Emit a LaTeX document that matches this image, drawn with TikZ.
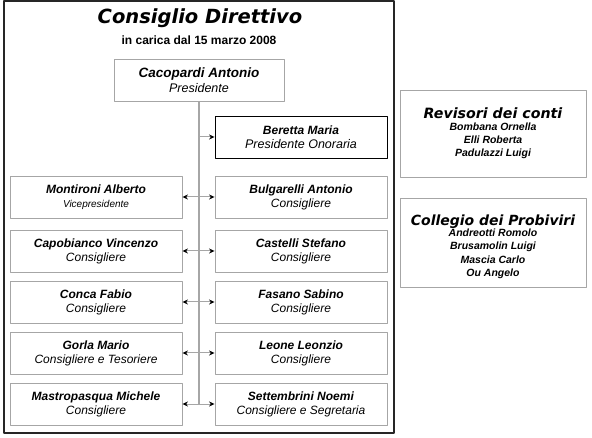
\documentclass[tikz,border=0pt]{standalone}
\usepackage{fontspec}
\setmainfont{Liberation Sans}
\newfontfamily\heavyfont[BoldFeatures={FakeBold=1.5}]{DejaVu Sans}
\usetikzlibrary{arrows.meta}

\begin{document}
\begin{tikzpicture}[x=1pt, y=-1pt, line join=round,
	punta/.tip={Stealth[black, length=5.5pt, width=5pt]},
	membro/.style={draw=gray!70, line width=0.9pt, fill=white, minimum width=172pt, minimum height=42pt, align=center, inner sep=1pt, font=\fontsize{12}{14}\selectfont},
	onoraria/.style={membro, draw=black},
	collegio/.style={draw=gray!70, line width=0.9pt, minimum width=186pt, align=center, inner sep=1pt, font=\bfseries\itshape\fontsize{10.5}{13}\selectfont},
	legame/.style={gray!70, line width=1pt}]
	\useasboundingbox (0,0) rectangle (592,438);
	\draw[line width=1.2pt, black!85] (4,1) rectangle (394,433);
	% titolo
	\node (titolo) at (200,18) {\heavyfont\bfseries\itshape\fontsize{19.5}{22}\selectfont Consiglio Direttivo};
	\node (data) at (199,40) {\bfseries\fontsize{12}{14}\selectfont in carica dal 15 marzo 2008};
	% consiglio
	\node[membro, minimum width=170pt, font=\fontsize{12.5}{15}\selectfont] (pres) at (199,80) {\textbf{\textit{\fontsize{13.5}{15}\selectfont Cacopardi Antonio}}\\ \textit{Presidente}};
	\coordinate (fondo) at (199,404);
	\draw[gray!70, line width=1.3pt] (pres.south) -- (fondo);
	\node[onoraria] (beretta) at (301,137) {\textbf{\textit{Beretta Maria}}\\ \textit{\fontsize{12.5}{14}\selectfont Presidente Onoraria}};
	\node[membro] (l1) at (96,197) {\textbf{\textit{Montironi Alberto}}\\ \textit{\fontsize{10}{12}\selectfont Vicepresidente}};
	\node[membro] (r1) at (301,197) {\textbf{\textit{Bulgarelli Antonio}}\\ \textit{Consigliere}};
	\node[membro] (l2) at (96,251) {\textbf{\textit{Capobianco Vincenzo}}\\ \textit{Consigliere}};
	\node[membro] (r2) at (301,251) {\textbf{\textit{Castelli Stefano}}\\ \textit{Consigliere}};
	\node[membro] (l3) at (96,302) {\textbf{\textit{Conca Fabio}}\\ \textit{Consigliere}};
	\node[membro] (r3) at (301,302) {\textbf{\textit{Fasano Sabino}}\\ \textit{Consigliere}};
	\node[membro] (l4) at (96,353) {\textbf{\textit{Gorla Mario}}\\ \textit{Consigliere e Tesoriere}};
	\node[membro] (r4) at (301,353) {\textbf{\textit{Leone Leonzio}}\\ \textit{Consigliere}};
	\node[membro] (l5) at (96,404) {\textbf{\textit{Mastropasqua Michele}}\\ \textit{Consigliere}};
	\node[membro] (r5) at (301,404) {\textbf{\textit{Settembrini Noemi}}\\ \textit{Consigliere e Segretaria}};
	\draw[legame, -punta] (pres.south |- beretta.west) -- (beretta.west);
	\foreach \i in {1,...,5}
	\draw[legame, punta-punta] (l\i.east) -- (r\i.west);
	% revisori e probiviri
	\node[collegio, minimum height=87pt] (revisori) at (493,133.5) {{\heavyfont\fontsize{14.2}{16}\selectfont Revisori dei conti}\\[-1pt]
		Bombana Ornella\\ Elli Roberta\\ Padulazzi Luigi};
	\node[collegio, minimum height=89pt, font=\bfseries\itshape\fontsize{10.5}{13.3}\selectfont] (probiviri) at (493,242.5) {{\heavyfont\fontsize{14}{16}\selectfont\rule{0pt}{19pt}Collegio dei Probiviri}\\[-2pt]
		Andreotti Romolo\\ Brusamolin Luigi\\ Mascia Carlo\\ Ou Angelo};
\end{tikzpicture}
\end{document}
